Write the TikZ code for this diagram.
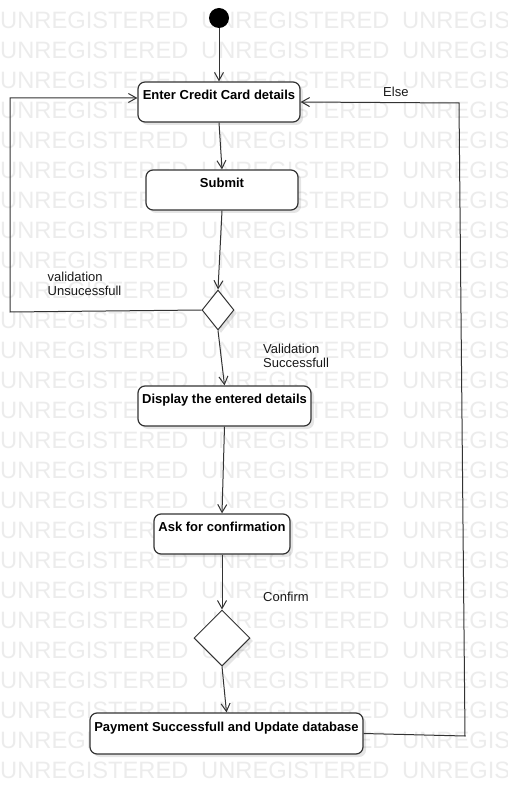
\documentclass[tikz,border=0pt]{standalone}
\usepackage{fontspec}
\setmainfont{Liberation Sans}
\usetikzlibrary{shapes.geometric,arrows.meta,shadows}
\definecolor{wm}{HTML}{ECECEC}
\definecolor{ln}{HTML}{333333}
\begin{document}
\begin{tikzpicture}[x=1pt,y=-1pt,
  shd/.style={drop shadow={shadow xshift=3pt, shadow yshift=-3pt, fill=black, opacity=0.10}},
  actbox/.style={draw=ln, line width=1.2pt, rounded corners=7pt, fill=white, inner sep=0pt, shd},
  boxtxt/.style={font=\fontsize{13pt}{15pt}\selectfont\bfseries, inner sep=0pt, text=black, anchor=base},
  lbl/.style={font=\fontsize{13pt}{13.4pt}\selectfont, inner sep=0pt, align=left, text=black!90, anchor=north west},
  dec/.style={diamond, draw=ln, line width=1pt, fill=white, inner sep=0pt, shd},
  arr/.style={draw=ln, line width=1pt, -{Straight Barb[length=8pt,width=9pt]}},
  wmk/.style={font=\fontsize{23.7pt}{24pt}\selectfont, text=wm, inner sep=0pt, anchor=west}
]
\useasboundingbox (0,0) rectangle (507,794);
\foreach \k in {0,...,25} {
  \node[wmk] (wma-\k) at (0, 20.5+30*\k) {UNREGISTERED};
  \node[wmk] (wmb-\k) at (201, 20.5+30*\k) {UNREGISTERED};
  \node[wmk] (wmc-\k) at (402, 20.5+30*\k) {UNREGIS};
}

% initial node
\node[circle, fill=black, inner sep=0pt, minimum size=20pt] (init) at (219,18) {};

% activity boxes
\node[actbox, minimum width=162pt, minimum height=40pt] (b1) at (219,102) {};
\node[boxtxt] (t1) at (219,99.5) {Enter Credit Card details};

\node[actbox, minimum width=152pt, minimum height=40pt] (b2) at (222,190) {};
\node[boxtxt] (t2) at (222,187.5) {Submit};

\node[dec, minimum width=32pt, minimum height=40pt] (d1) at (218,310) {};

\node[actbox, minimum width=173pt, minimum height=40pt] (b3) at (224.5,406) {};
\node[boxtxt] (t3) at (224.5,403.5) {Display the entered details};

\node[actbox, minimum width=136pt, minimum height=40pt] (b4) at (222,534) {};
\node[boxtxt] (t4) at (222,531.5) {Ask for confirmation};

\node[dec, minimum width=56pt, minimum height=56pt] (d2) at (222,638) {};

\node[actbox, minimum width=273pt, minimum height=41pt] (b5) at (226.5,733.5) {};
\node[boxtxt] (t5) at (226.5,731) {Payment Successfull and Update database};

% labels
\node[lbl] (lu) at (47.5,272) {validation\\Unsucessfull};
\node[lbl] (ls) at (263,344) {Validation\\Successfull};
\node[lbl] (lc) at (263,591.5) {Confirm};
\node[lbl] (le) at (383,87) {Else};

% coordinates for loops
\coordinate (l1) at (10,312);
\coordinate (l2) at (10,98);
\coordinate (r1) at (465,736);
\coordinate (r2) at (459,103);

% connectors
\draw[arr] (init) -- (b1.north);
\draw[arr] (b1.south) -- (b2.north);
\draw[arr] (b2.south) -- (d1.north);
\draw[arr] (d1.south) -- (b3.north);
\draw[arr] (b3.south) -- (b4.north);
\draw[arr] (b4.south) -- (d2.north);
\draw[arr] (d2.south) -- (b5.north);
\draw[arr] (d1.west) -- (l1) -- (l2) -- (b1.west |- l2);
\draw[arr] (b5.east) -- (r1) -- (r2) -- (b1.east);
\end{tikzpicture}
\end{document}
